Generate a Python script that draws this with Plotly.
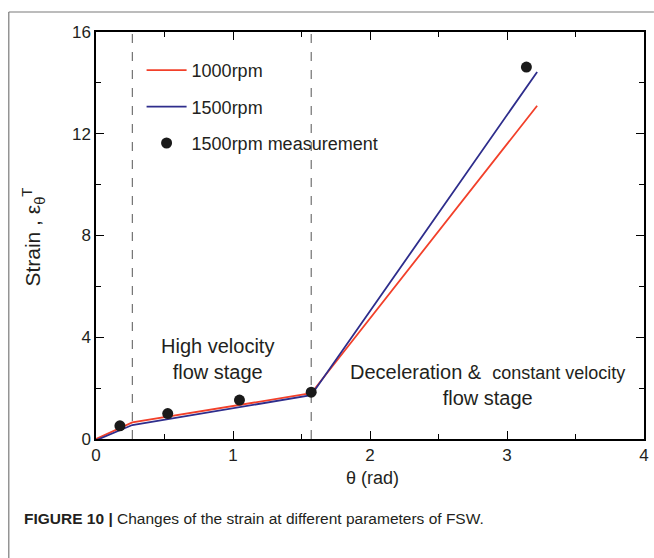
import plotly.graph_objects as go
import math

# ---- data ----
theta_1000 = [0.0, 0.265, math.pi / 2, 3.22]
strain_1000 = [0.0, 0.65, 1.80, 13.1]
theta_1500 = [0.0, 0.265, math.pi / 2, 3.22]
strain_1500 = [-0.05, 0.55, 1.72, 14.43]
theta_meas = [math.pi / 18, math.pi / 6, math.pi / 3, math.pi / 2, math.pi]
strain_meas = [0.52, 1.0, 1.53, 1.84, 14.62]
stage_bounds = [0.265, math.pi / 2]
x_ticks = [0, 1, 2, 3, 4]
y_ticks = [0, 4, 8, 12, 16]

RED = "#f2402a"
BLUE = "#2e2d8c"
INK = "#231f20"
FONT = "Liberation Sans, Arial, sans-serif"

# plot area in pixels
L, R, T, B = 96, 649, 32, 439
W, H = 654, 558
pw, ph = R - L, B - T
def px(x):
    return (x - L) / pw
def py(y):
    return (B - y) / ph

fig = go.Figure()
fig.add_trace(go.Scatter(x=theta_1000, y=strain_1000, mode="lines", name="1000rpm",
                         line=dict(color=RED, width=1.8), legendgroup="a"))
fig.add_trace(go.Scatter(x=theta_1500, y=strain_1500, mode="lines", name="1500rpm",
                         line=dict(color=BLUE, width=1.8), legendgroup="b"))
fig.add_trace(go.Scatter(x=theta_meas, y=strain_meas, mode="markers", name="1500rpm measurement",
                         marker=dict(color="#1a1a1a", size=11), legendgroup="c"))

for xb in stage_bounds:
    fig.add_shape(type="line", x0=xb, x1=xb, y0=0, y1=16, xref="x", yref="y",
                  line=dict(color="#555555", width=1, dash="dash"), layer="below")

# page frame lines
fig.add_shape(type="line", xref="paper", yref="paper", x0=px(8), x1=px(8), y0=py(12), y1=py(H + 5),
              line=dict(color="#7a7a7a", width=1.2))
fig.add_shape(type="line", xref="paper", yref="paper", x0=px(8), x1=px(W + 5), y0=py(12), y1=py(12),
              line=dict(color="#7a7a7a", width=1.2))

axis_common = dict(showline=True, linecolor="black", linewidth=1.5, mirror="allticks",
                   ticks="inside", ticklen=8, tickwidth=1.3, tickcolor="black",
                   showgrid=False, zeroline=False, ticklabeloverflow="allow",
                   tickfont=dict(size=17, color=INK, family=FONT))
fig.update_xaxes(range=[0, 4], tickvals=x_ticks, ticktext=[str(v) for v in x_ticks],
                 minor=dict(ticks="inside", ticklen=5, tickwidth=1.2, tickcolor="black", dtick=0.5),
                 **axis_common)
fig.update_yaxes(range=[0, 16], tickvals=y_ticks, ticktext=[str(v) for v in y_ticks],
                 minor=dict(ticks="inside", ticklen=5, tickwidth=1.2, tickcolor="black", dtick=2),
                 **axis_common)

anns = [
    dict(x=0.89, y=3.16, xref="x", yref="y", text="High velocity<br>flow stage", showarrow=False,
         xanchor="center", yanchor="middle",
         font=dict(size=20, color=INK, family=FONT), align="center"),
    dict(x=2.86, y=2.12, xref="x", yref="y",
         text="Deceleration &amp;  <span style='font-size:18px'>constant velocity</span><br>flow stage",
         showarrow=False, xanchor="center", yanchor="middle",
         font=dict(size=20, color=INK, family=FONT), align="center"),
    dict(x=px(32), y=py(237), xref="paper", yref="paper", textangle=-90,
         xanchor="center", yanchor="middle",
         text="Strain , ε<sub>θ</sub><sup>T</sup>", showarrow=False,
         font=dict(size=21, color=INK, family=FONT)),
    dict(x=px(375), y=py(478), xref="paper", yref="paper", text="θ (rad)", showarrow=False,
         xanchor="center", yanchor="middle",
         font=dict(size=18, color=INK, family=FONT)),
    dict(x=px(21), y=py(518), xref="paper", yref="paper", xanchor="left", yanchor="middle",
         text="<b>FIGURE 10 |</b> Changes of the strain at different parameters of FSW.",
         showarrow=False, font=dict(size=15.5, color=INK, family=FONT)),
]
fig.update_layout(
    width=W, height=H, margin=dict(l=L, r=W - R, t=T, b=H - B),
    plot_bgcolor="white", paper_bgcolor="white",
    annotations=anns,
    showlegend=True,
    legend=dict(x=px(142), y=py(52), xanchor="left", yanchor="top", bgcolor="rgba(0,0,0,0)",
                font=dict(size=18, color=INK, family=FONT), tracegroupgap=10, traceorder="grouped",
                itemwidth=40),
)
fig.write_html("out.html")
